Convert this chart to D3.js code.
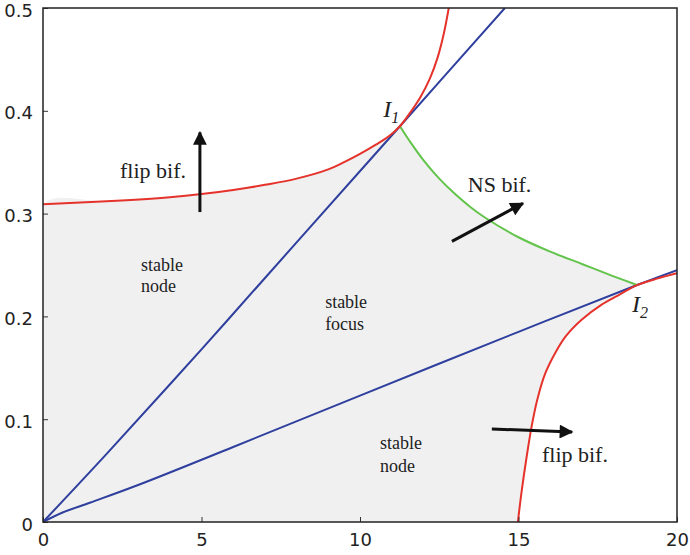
<!DOCTYPE html>
<meta charset="utf-8">
<head>
  <title>Bifurcation diagram</title>
</head>
<style>
  body { margin: 0; background: #fff; }
  .tick text { font-family: "DejaVu Sans", sans-serif; font-size: 18px; fill: #222; }
  .note { font-family: "Liberation Serif", serif; fill: #222; }
</style>
<body>
<script src="https://cdn.jsdelivr.net/npm/d3@7"></script>
<script>
// ---- data ----
var xTicks = [0, 5, 10, 15, 20];
var yTicks = [0, 0.1, 0.2, 0.3, 0.4, 0.5];

// upper flip curve (red)
var flipUpper = [[0,0.309],[2,0.312],[4,0.316],[5,0.319],[6,0.323],[7,0.328],[8,0.334],
  [9,0.343],[9.5,0.350],[10,0.358],[10.5,0.367],[10.9,0.375],[11.26,0.385],[11.6,0.399],
  [11.9,0.413],[12.2,0.431],[12.45,0.452],[12.65,0.476],[12.8,0.5]];
// lower flip curve (red)
var flipLower = [[14.98,0],[15.1,0.03],[15.25,0.062],[15.42,0.094],[15.6,0.120],[15.85,0.145],
  [16.15,0.164],[16.5,0.181],[17,0.197],[17.6,0.211],[18.2,0.2215],[18.74,0.2305],[19.4,0.237],[20,0.242]];
// Neimark-Sacker curve (green), from I1 to I2
var nsCurve = [[11.26,0.385],[11.6,0.369],[12,0.352],[12.5,0.334],[13,0.319],[13.5,0.306],[14,0.295],
  [15,0.277],[16,0.263],[17,0.251],[18,0.239],[18.74,0.2305]];
// node/focus boundaries (blue)
var blueUpper = [[0,0],[2,0.066],[5,0.168],[8,0.272],[11.26,0.385],[14.57,0.5]];
var blueLower = [[0,0],[0.6,0.009],[1.5,0.019],[3,0.036],[6,0.073],[10,0.123],[15,0.185],
  [18.74,0.2305],[20,0.245]];

var I1 = [11.26, 0.385], I2 = [18.74, 0.2305];

var labels = [
  {x: 2.43, y: 0.335, text: "flip bif.", size: 22},
  {x: 15.74, y: 0.058, text: "flip bif.", size: 22},
  {x: 13.4, y: 0.321, text: "NS bif.", size: 22},
  {x: 3.09, y: 0.244, text: "stable", size: 18}, {x: 3.09, y: 0.224, text: "node", size: 18},
  {x: 8.9, y: 0.208, text: "stable", size: 18}, {x: 8.9, y: 0.187, text: "focus", size: 18},
  {x: 10.63, y: 0.071, text: "stable", size: 18}, {x: 10.63, y: 0.049, text: "node", size: 18}
];
var pointLabels = [{x: 10.73, y: 0.394, sub: "1"}, {x: 18.58, y: 0.204, sub: "2"}];

var arrows = [
  [[4.95, 0.3015], [4.95, 0.379]],
  [[12.9, 0.273], [15.14, 0.310]],
  [[14.16, 0.0905], [16.69, 0.0875]]
];

// ---- layout ----
var margin = {top: 8, right: 13, bottom: 33, left: 43},
    width = 690 - margin.left - margin.right,
    height = 555 - margin.top - margin.bottom;

var x = d3.scaleLinear().domain([0, 20]).range([0, width]);
var y = d3.scaleLinear().domain([0, 0.5]).range([height, 0]);

var svg = d3.select("body").append("svg")
    .attr("width", 690)
    .attr("height", 555)
  .append("g")
    .attr("transform", "translate(" + margin.left + "," + margin.top + ")");

svg.append("defs").append("clipPath").attr("id", "clip")
  .append("rect").attr("width", width).attr("height", height);

svg.append("defs").append("marker")
    .attr("id", "head")
    .attr("viewBox", "0 0 10 10")
    .attr("refX", 9).attr("refY", 5)
    .attr("markerWidth", 6.5).attr("markerHeight", 4.6)
    .attr("markerUnits", "strokeWidth")
    .attr("orient", "auto")
  .append("path")
    .attr("d", "M0,0 L10,5 L0,10 z")
    .attr("fill", "#111");

var smooth = d3.line()
    .x(function(d) { return x(d[0]); })
    .y(function(d) { return y(d[1]); })
    .curve(d3.curveCatmullRom);

var plot = svg.append("g").attr("clip-path", "url(#clip)");

// shaded stable region: left edge, upper flip curve to I1, NS curve to I2, lower flip curve down
var region = [[0, 0], [0, 0.15]]
  .concat(flipUpper.filter(function(d) { return d[0] <= I1[0]; }))
  .concat(nsCurve.slice(1))
  .concat(flipLower.filter(function(d) { return d[0] < I2[0]; }).reverse());

plot.append("path")
    .attr("d", smooth(region) + "Z")
    .attr("fill", "#f0f0f0");

[[blueUpper, "#2e3f9e"], [blueLower, "#2e3f9e"], [nsCurve, "#62c44a"],
 [flipUpper, "#e5322b"], [flipLower, "#e5322b"]].forEach(function(c) {
  plot.append("path")
      .attr("d", smooth(c[0]))
      .attr("fill", "none")
      .attr("stroke", c[1])
      .attr("stroke-width", 2);
});

// axes
svg.append("g")
    .attr("transform", "translate(0," + height + ")")
    .call(d3.axisBottom(x).tickValues(xTicks).tickSizeInner(-5).tickSizeOuter(0).tickPadding(11))
    .call(function(g) { g.select(".domain").remove(); });

svg.append("g")
    .call(d3.axisLeft(y).tickValues(yTicks).tickFormat(d3.format("~g")).tickSizeInner(-5).tickSizeOuter(0).tickPadding(10))
    .call(function(g) {
      g.select(".domain").remove();
      g.selectAll("text").attr("dy", "0.45em");
    });

svg.selectAll(".tick line").attr("stroke", "#333");

svg.append("rect")
    .attr("width", width)
    .attr("height", height)
    .attr("fill", "none")
    .attr("stroke", "#222")
    .attr("stroke-width", 1.5);

// arrows
arrows.forEach(function(a) {
  svg.append("line")
      .attr("x1", x(a[0][0])).attr("y1", y(a[0][1]))
      .attr("x2", x(a[1][0])).attr("y2", y(a[1][1]))
      .attr("stroke", "#111")
      .attr("stroke-width", 3)
      .attr("marker-end", "url(#head)");
});

// annotations
labels.forEach(function(l) {
  svg.append("text")
      .attr("class", "note")
      .attr("x", x(l.x))
      .attr("y", y(l.y))
      .style("font-size", l.size + "px")
      .text(l.text);
});

pointLabels.forEach(function(p) {
  var t = svg.append("text")
      .attr("class", "note")
      .attr("x", x(p.x))
      .attr("y", y(p.y))
      .style("font-size", "24px")
      .style("font-style", "italic");
  t.append("tspan").text("I");
  t.append("tspan").attr("dy", 6).style("font-size", "16px").text(p.sub);
});
</script>
</body>
